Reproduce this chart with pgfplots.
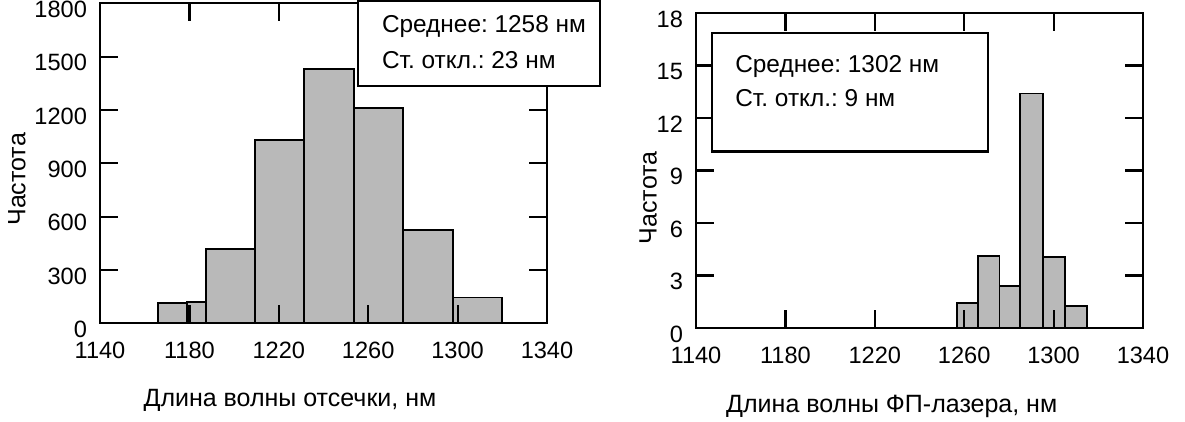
\documentclass[border=0pt]{standalone}
\usepackage{fontspec}
\setmainfont{Liberation Sans}
\usepackage{pgfplots}
\pgfplotsset{compat=1.18}
\frenchspacing
\pgfplotsset{
  histo/.style={
    scale only axis, width=223.5pt,
    anchor=south west,
    xmin=1140, xmax=1340, xtick={1140,1180,1220,1260,1300,1340},
    tick align=inside, major tick length=9pt,
    axis line style={line width=1.2pt},
    every tick/.style={line width=1.1pt, black},
    axis on top=true,
    /pgf/number format/assume math mode=true,
    /pgf/number format/1000 sep={},
    tick label style={font=\fontsize{11.8}{13}\selectfont},
    xticklabel style={yshift=-6pt},
    yticklabel style={xshift=-3pt, yshift=-3pt},
    label style={font=\fontsize{12.5}{14}\selectfont},
    xlabel style={anchor=center},
    ylabel style={anchor=center},
    clip=false,
  },
  bars/.style={ybar interval, fill=gray!55, draw=black, line width=0.9pt},
}
\begin{document}
\begin{tikzpicture}
\path[use as bounding box] (0pt,0pt) rectangle (592.5pt,211pt);
% left histogram
\begin{axis}[histo, at={(50pt,49.35pt)}, height=160pt,
  ymin=0, ymax=1800, ytick={0,300,600,900,1200,1500,1800},
  xlabel={Длина волны отсечки, нм},
  ylabel={Частота},
  xlabel style={at={(axis description cs:0.425,-0.24)}},
  ylabel style={at={(axis description cs:-0.186,0.45)}},
]
\addplot[bars] coordinates {(1166,116) (1179,118) (1187.6,416) (1209.5,1031) (1231.4,1429) (1253.8,1210) (1275.7,525) (1297.9,145) (1320,0)};
\coordinate (La) at (rel axis cs:0.577,0.742);
\coordinate (Lb) at (rel axis cs:1.118,1.009);
\coordinate (Lt1) at (rel axis cs:0.630,0.927);
\coordinate (Lt2) at (rel axis cs:0.630,0.823);
\end{axis}
\draw[line width=1.1pt, fill=white] (La) rectangle (Lb);
\node[anchor=west, inner sep=0pt, font=\fontsize{12.2}{14}\selectfont] at (Lt1) {Среднее: 1258 нм};
\node[anchor=west, inner sep=0pt, font=\fontsize{12.2}{14}\selectfont] at (Lt2) {Ст. откл.: 23 нм};
% right histogram
\begin{axis}[histo, at={(348pt,47pt)}, height=157.5pt,
  ymin=0, ymax=18, ytick={0,3,6,9,12,15,18},
  xlabel={Длина волны ФП-лазера, нм},
  ylabel={Частота},
  xlabel style={at={(axis description cs:0.438,-0.248)}},
  ylabel style={at={(axis description cs:-0.107,0.413)}},
]
\addplot[bars] coordinates {(1256.6,1.45) (1266.0,4.1) (1275.8,2.4) (1285.1,13.4) (1295.2,4.07) (1305.1,1.26) (1315.1,0)};
\coordinate (Ra) at (rel axis cs:0.035,0.56);
\coordinate (Rb) at (rel axis cs:0.654,0.936);
\coordinate (Rt1) at (rel axis cs:0.087,0.830);
\coordinate (Rt2) at (rel axis cs:0.087,0.729);
\end{axis}
\draw[line width=1.1pt, fill=white] (Ra) rectangle (Rb);
\node[anchor=west, inner sep=0pt, font=\fontsize{12.2}{14}\selectfont] at (Rt1) {Среднее: 1302 нм};
\node[anchor=west, inner sep=0pt, font=\fontsize{12.2}{14}\selectfont] at (Rt2) {Ст. откл.: 9 нм};
\end{tikzpicture}
\end{document}
